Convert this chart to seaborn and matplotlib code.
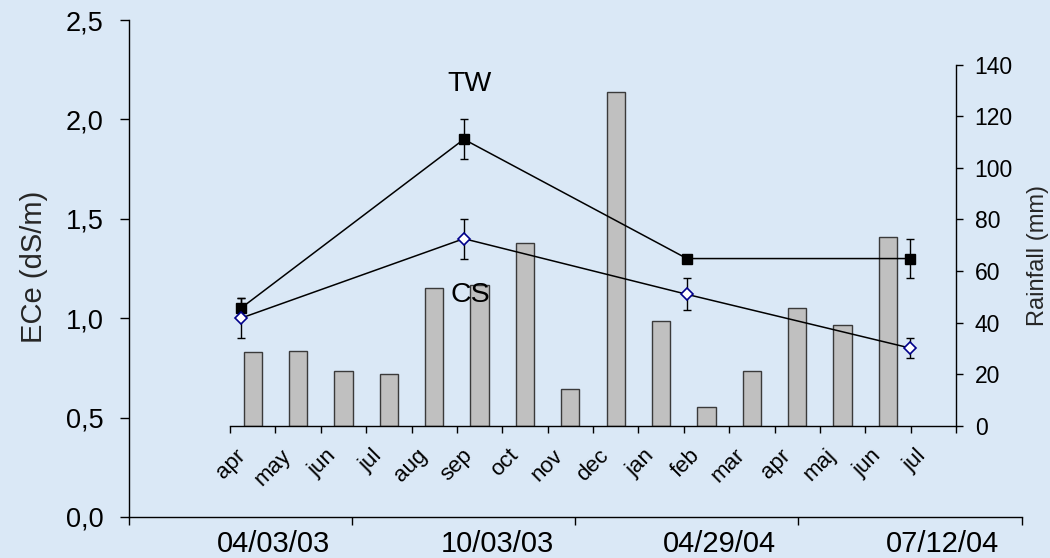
import numpy as np
import pandas as pd
import matplotlib
matplotlib.use("Agg")
import matplotlib.pyplot as plt
from matplotlib.ticker import FuncFormatter
from matplotlib.transforms import ScaledTranslation
import seaborn as sns

# ============================================
# Data
# ============================================
# monthly rainfall, apr 2003 .. jul 2004 (mm); jul 2004 has no bar
periods = ["2003-04", "2003-05", "2003-06", "2003-07", "2003-08", "2003-09",
           "2003-10", "2003-11", "2003-12", "2004-01", "2004-02", "2004-03",
           "2004-04", "2004-05", "2004-06", "2004-07"]
months = ["apr", "may", "jun", "jul", "aug", "sep", "oct", "nov", "dec",
          "jan", "feb", "mar", "apr", "maj", "jun", "jul"]
rainfall = [28.6, 29.1, 21.4, 20.2, 53.3, 54.7, 70.8, 14.2, 129.2,
            40.7, 7.5, 21.2, 45.6, 39.2, 73.2, np.nan]

# ECe sampling dates
sample_dates = ["04/03/03", "10/03/03", "04/29/04", "07/12/04"]
tw_mean = [1.05, 1.90, 1.30, 1.30]
tw_err = [0.05, 0.10, 0.00, 0.10]
cs_mean = [1.00, 1.40, 1.12, 0.85]
cs_err = [0.10, 0.10, 0.08, 0.05]
ece_ticks = [0.0, 0.5, 1.0, 1.5, 2.0, 2.5]
rain_ticks = [0, 20, 40, 60, 80, 100, 120, 140]

BG = "#dae8f6"

sns.set_theme(style="ticks")
plt.rcParams["font.family"] = ["Liberation Sans", "DejaVu Sans"]
plt.rcParams["axes.edgecolor"] = "black"
plt.rcParams["axes.linewidth"] = 1.0
plt.rcParams["xtick.color"] = "black"
plt.rcParams["ytick.color"] = "black"
plt.rcParams["text.color"] = "black"

W, H = 1050, 558
fig = plt.figure(figsize=(W / 100, H / 100), dpi=100)
fig.patch.set_facecolor(BG)

# inner rainfall axes (bars), behind the ECe axes
ax_rain = fig.add_axes([230 / W, 1 - 426 / H, 726 / W, (426 - 64.5) / H])
ax_ece = fig.add_axes([129.3 / W, 1 - 517 / H, 892.2 / W, 497 / H])
for a in (ax_rain, ax_ece):
    a.patch.set_alpha(0)

# ============================================
# Rainfall bars
# ============================================
rain_df = pd.DataFrame({"period": periods, "rain": rainfall})
sns.barplot(data=rain_df, x="period", y="rain", order=periods,
            color="#c0c0c0", saturation=1, edgecolor="#3a3a3a",
            linewidth=1, width=0.4, errorbar=None, ax=ax_rain)

ax_rain.set_xlim(-0.5, len(periods) - 0.5)
ax_rain.set_ylim(0, 140)
ax_rain.set_xlabel("")
ax_rain.set_ylabel("")
ax_rain.spines["left"].set_visible(False)
ax_rain.spines["top"].set_visible(False)

ax_rain.set_xticks(np.arange(-0.5, len(periods), 1.0))
ax_rain.set_xticklabels([])
ax_rain.set_xticks(range(len(periods)), minor=True)
ax_rain.set_xticklabels(months, minor=True, rotation=45, ha="right",
                        va="center", rotation_mode="anchor", fontsize=16)
ax_rain.tick_params(axis="x", which="major", length=5, width=1)
ax_rain.tick_params(axis="x", which="minor", length=0, pad=19)
shift = ScaledTranslation(-0.1, 0, fig.dpi_scale_trans)
for lab in ax_rain.get_xticklabels(minor=True):
    lab.set_transform(lab.get_transform() + shift)

ax_rain.yaxis.tick_right()
ax_rain.set_yticks(rain_ticks)
ax_rain.tick_params(axis="y", length=5, width=1, pad=8.5, labelsize=16.5)
ax_rain.yaxis.set_label_position("right")
ax_rain.set_ylabel("Rainfall (mm)", fontsize=17)
ax_rain.yaxis.set_label_coords((1038 - 230) / 726, (426 - 255) / 361.5)
ax_rain.yaxis.label.set_ha("center")
ax_rain.yaxis.label.set_va("center")

# ============================================
# ECe lines (TW, CS) with error bars
# ============================================
ece_df = pd.DataFrame({"date": sample_dates, "tw": tw_mean, "cs": cs_mean})

ax_ece.errorbar(range(len(sample_dates)), tw_mean, yerr=tw_err, fmt="none",
                ecolor="black", elinewidth=1, capsize=3.2, capthick=1, zorder=1.5)
ax_ece.errorbar(range(len(sample_dates)), cs_mean, yerr=cs_err, fmt="none",
                ecolor="black", elinewidth=1, capsize=3.2, capthick=1, zorder=1.5)

sns.pointplot(data=ece_df, x="date", y="tw", order=sample_dates,
              color="black", markers="s", linewidth=1.1, markersize=7,
              markeredgewidth=1, errorbar=None, ax=ax_ece)
sns.pointplot(data=ece_df, x="date", y="cs", order=sample_dates,
              color="black", markers="D", linewidth=1.1, markersize=6,
              markeredgewidth=1.2, errorbar=None, ax=ax_ece)
cs_line = ax_ece.lines[-1]
cs_line.set_markerfacecolor("white")
cs_line.set_markeredgecolor("#00008b")

ax_ece.text(1.027, 2.18, "TW", fontsize=20.5, ha="center", va="center")
ax_ece.text(1.027, 1.117, "CS", fontsize=20.5, ha="center", va="center")

ax_ece.set_xlim(-0.5, len(sample_dates) - 0.5)
ax_ece.set_ylim(0, 2.5)
ax_ece.spines["top"].set_visible(False)
ax_ece.spines["right"].set_visible(False)

ax_ece.set_yticks(ece_ticks)
ax_ece.yaxis.set_major_formatter(FuncFormatter(lambda v, p: f"{v:.1f}".replace(".", ",")))
ax_ece.tick_params(axis="y", length=6.5, width=1, pad=12, labelsize=19.5)

ax_ece.set_xticks(np.arange(-0.5, len(sample_dates), 1.0))
ax_ece.set_xticklabels([])
ax_ece.set_xticks(range(len(sample_dates)), minor=True)
ax_ece.set_xticklabels(sample_dates, minor=True, fontsize=21)
ax_ece.tick_params(axis="x", which="major", length=6, width=1)
ax_ece.tick_params(axis="x", which="minor", length=0, pad=9)
shift_d = ScaledTranslation(0.33, 0, fig.dpi_scale_trans)
for lab in ax_ece.get_xticklabels(minor=True):
    lab.set_transform(lab.get_transform() + shift_d)

ax_ece.set_xlabel("")
ax_ece.set_ylabel("ECe (dS/m)", fontsize=21)
ax_ece.yaxis.set_label_coords((34 - 129.3) / 892.2, (517 - 267) / 497)
ax_ece.yaxis.label.set_ha("center")
ax_ece.yaxis.label.set_va("center")

fig.savefig("out.png", dpi=100, facecolor=fig.get_facecolor())
plt.close(fig)
